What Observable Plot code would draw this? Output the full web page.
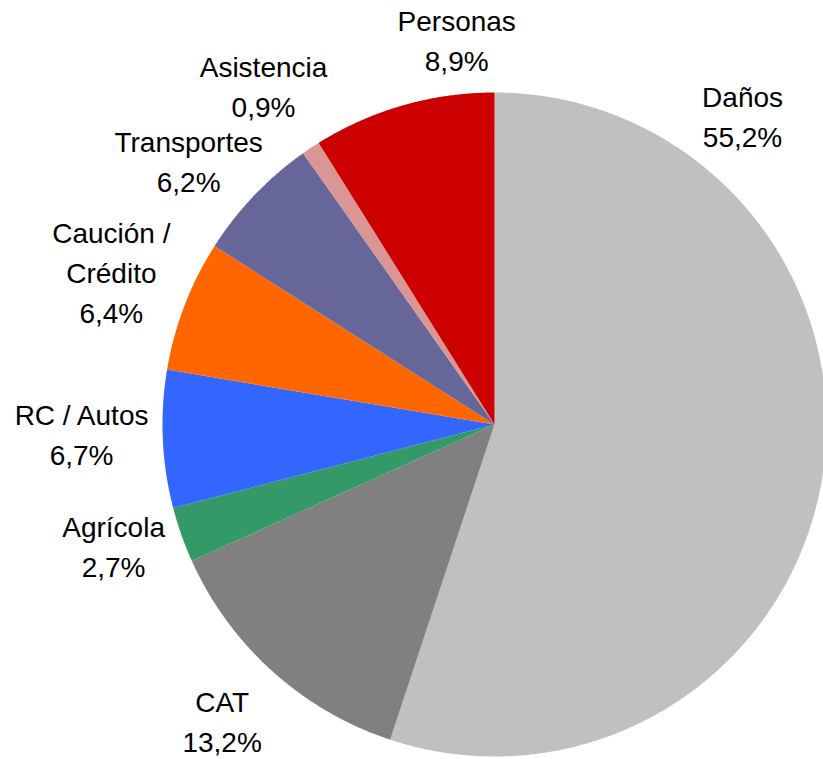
<!DOCTYPE html>
<html><head><meta charset="utf-8">
<script src="https://cdn.jsdelivr.net/npm/d3@7"></script>
<script src="https://cdn.jsdelivr.net/npm/@observablehq/plot@0.6"></script>
<style>body{margin:0;background:#fff}</style>
</head><body><div id="chart"></div>
<script>
// ---- data ----
const categories = ["Daños", "CAT", "Agrícola", "RC / Autos", "Caución /\nCrédito", "Transportes", "Asistencia", "Personas"];
const shares = [55.2, 13.2, 2.7, 6.7, 6.4, 6.2, 0.9, 8.9];
const colors = ["#C0C0C0", "#808080", "#339966", "#3366FF", "#FF6600", "#666699", "#D99694", "#CC0000"];

// ---- layout (label placement relative to slice mid-angle, in degrees, and distance in radii) ----
const labelAngleShift = [-60.5, 0.7, 1.9, 1.5, 0.9, -2.75, -0.6, 10.4];
const labelDistance = [1.196, 1.209, 1.203, 1.244, 1.244, 1.219, 1.238, 1.169];
const W = 823, H = 759, CX = 494, CY = 424, R = 332;

const fmt = v => v.toFixed(1).replace(".", ",") + "%";
const arcs = d3.pie().sort(null).value(d => d)(shares);

const sliceRows = [];
arcs.forEach((a, i) => {
  const cat = categories[i];
  sliceRows.push({cat, x: 0, y: 0});
  const n = Math.max(2, Math.ceil((a.endAngle - a.startAngle) / (Math.PI / 720)));
  for (let k = 0; k <= n; ++k) {
    const t = a.startAngle + (a.endAngle - a.startAngle) * k / n;
    sliceRows.push({cat, x: Math.sin(t), y: Math.cos(t)});
  }
});

const labelRows = arcs.map((a, i) => {
  const mid = (a.startAngle + a.endAngle) / 2 + labelAngleShift[i] * Math.PI / 180;
  return {
    x: labelDistance[i] * Math.sin(mid),
    y: labelDistance[i] * Math.cos(mid),
    text: categories[i] + "\n" + fmt(shares[i])
  };
});

const chart = Plot.plot({
  width: W,
  height: H,
  margin: 0,
  x: {domain: [-CX / R, (W - CX) / R], range: [0, W], axis: null},
  y: {domain: [(CY - H) / R, CY / R], range: [H, 0], axis: null},
  color: {domain: categories, range: colors},
  style: {background: "#fff"},
  marks: [
    Plot.line(sliceRows, {x: "x", y: "y", z: "cat", fill: "cat", stroke: "none", curve: "linear-closed"}),
    Plot.text(labelRows, {x: "x", y: "y", text: "text", fontSize: 28, fontFamily: "Liberation Sans, Arial, sans-serif", fill: "#000", lineHeight: 1.43, textAnchor: "middle"})
  ]
});
document.getElementById("chart").appendChild(chart);
</script>
</body></html>
